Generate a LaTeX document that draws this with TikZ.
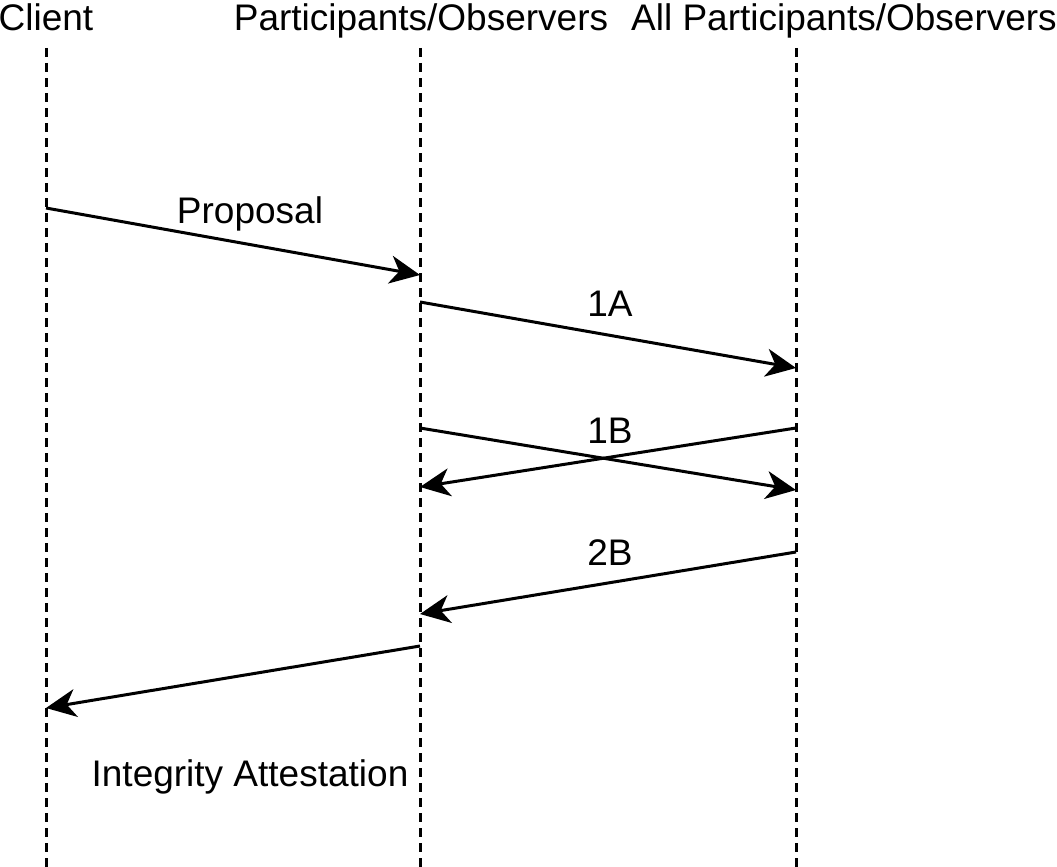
\documentclass[tikz,border=0pt]{standalone}
\usepackage{fontspec}
\setmainfont{Liberation Sans}
\usetikzlibrary{arrows.meta}
\begin{document}
\begin{tikzpicture}[x=1pt,y=-1pt,
  lbl/.style={inner sep=0pt,anchor=base,font=\fontsize{37}{44}\selectfont},
  lifeline/.style={line width=3pt,dash pattern=on 9pt off 6pt},
  msg/.style={line width=3pt,-{Stealth[length=30pt,width=28pt,inset=9pt]}},
]
\useasboundingbox (0,0) rectangle (1057,867);
% headers
\node[lbl] (hc) at (46,31) {Client};
\node[lbl] (hp) at (421,31) {Participants/Observers};
\node[lbl,anchor=base east] (ha) at (1057,31) {All Participants/Observers};
% lifelines
\coordinate (cTop) at (46,48); \coordinate (cBot) at (46,867);
\coordinate (pTop) at (420,48); \coordinate (pBot) at (420,867);
\coordinate (aTop) at (796,48); \coordinate (aBot) at (796,867);
\draw[lifeline] (cTop) -- (cBot);
\draw[lifeline] (pTop) -- (pBot);
\draw[lifeline] (aTop) -- (aBot);
% message points
\coordinate (c1) at (46,208); \coordinate (p1) at (420,275);
\coordinate (p2) at (420,302); \coordinate (a2) at (796,368);
\coordinate (p3) at (420,428); \coordinate (a3) at (796,490);
\coordinate (a4) at (796,428); \coordinate (p4) at (420,487);
\coordinate (a5) at (796,552); \coordinate (p5) at (420,614);
\coordinate (p6) at (420,646); \coordinate (c6) at (46,708);
\draw[msg] (c1) -- (p1);
\draw[msg] (p2) -- (a2);
\draw[msg] (p3) -- (a3);
\draw[msg] (a4) -- (p4);
\draw[msg] (a5) -- (p5);
\draw[msg] (p6) -- (c6);
% labels
\node[lbl] (lProp) at (250,223) {Proposal};
\node[lbl] (l1A) at (610,316) {1A};
\node[lbl] (l1B) at (610,443) {1B};
\node[lbl] (l2B) at (610,565) {2B};
\node[lbl] (lIA) at (250,786) {Integrity Attestation};
\end{tikzpicture}
\end{document}
